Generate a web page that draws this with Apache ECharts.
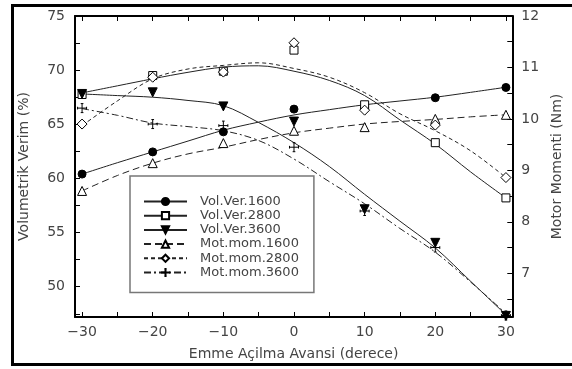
<!DOCTYPE html>
<html><head><meta charset="utf-8">
<script src="https://cdn.jsdelivr.net/npm/echarts@6/dist/echarts.min.js"></script>
<style>html,body{margin:0;padding:0;background:#fff}#c{width:572px;height:369px}</style>
</head><body><div id="c"></div>
<script>
// ---- data ----
const advance = [-30, -20, -10, 0, 10, 20, 30];
const volVer1600 = [60.4, 62.45, 64.3, 66.4, 66.5, 67.45, 68.4];
const volVer2800 = [67.75, 69.5, 69.9, 71.85, 66.8, 63.3, 58.2];
const volVer3600 = [67.8, 67.95, 66.65, 65.25, 57.15, 54.05, 47.3];
const motMom1600 = [8.6, 9.14, 9.53, 9.77, 9.84, 10.0, 10.08];
const motMom2800 = [9.9, 10.81, 10.91, 11.48, 10.17, 9.88, 8.86];
const motMom3600 = [10.21, 9.9, 9.87, 9.45, 8.21, 7.5, 6.18];

// fitted curves
const curveX = [-30, -25, -20, -15, -10, -5, 0, 5, 10, 15, 20, 25, 30];
const fitVol1600 = [60.4, 61.45, 62.45, 63.45, 64.45, 65.2, 65.86, 66.35, 66.8, 67.15, 67.5, 67.95, 68.42];
const fitVol2800 = [67.9, 68.55, 69.2, 69.8, 70.28, 70.4, 69.9, 69.05, 67.65, 65.4, 63.17, 60.6, 58.2];
const fitVol3600 = [67.8, 67.65, 67.5, 67.2, 66.72, 65.16, 63.3, 61.1, 58.53, 56.05, 53.58, 50.5, 47.4];
const fitMot1600 = [8.6, 8.9, 9.14, 9.32, 9.45, 9.6, 9.73, 9.82, 9.9, 9.95, 9.99, 10.04, 10.08];
const fitMot2800 = [9.87, 10.35, 10.78, 10.97, 11.04, 11.09, 10.98, 10.81, 10.51, 10.1, 9.77, 9.38, 8.86];
const fitMot3600 = [10.2, 10.07, 9.92, 9.85, 9.77, 9.58, 9.22, 8.78, 8.35, 7.87, 7.41, 6.83, 6.22];

const seriesNames = ['Vol.Ver.1600', 'Vol.Ver.2800', 'Vol.Ver.3600', 'Mot.mom.1600', 'Mot.mom.2800', 'Mot.mom.3600'];

const xLabelTicks = [-30, -20, -10, 0, 10, 20, 30];
const xMinorTicks = [-30, -25, -20, -15, -10, -5, 0, 5, 10, 15, 20, 25, 30];
const volLabelTicks = [50, 55, 60, 65, 70, 75];
const volMinorTicks = [47.5, 50, 52.5, 55, 57.5, 60, 62.5, 65, 67.5, 70, 72.5, 75];
const momLabelTicks = [7, 8, 9, 10, 11, 12];
const momMinorTicks = [6.5, 7, 7.5, 8, 8.5, 9, 9.5, 10, 10.5, 11, 11.5, 12];

// ---- chart ----
const FONT = 'DejaVu Sans';
const TXT = '#444';
const LINE = '#222';
const pairs = (xs, ys) => xs.map((x, i) => [x, ys[i]]);
const minus = v => String(v).replace('-', '\u2212');

const crossPath = 'path://M0,5L10,5M5,0L5,10M0,3.5L0,6.5M10,3.5L10,6.5M3.5,0L6.5,0M3.5,10L6.5,10';

const styles = [
  { sym: 'circle', size: 8, fill: '#000', type: 'solid', axis: 0, rot: 0 },
  { sym: 'rect', size: 8, fill: '#fff', type: 'solid', axis: 0, rot: 0 },
  { sym: 'triangle', size: 9, fill: '#000', type: 'solid', axis: 0, rot: 180 },
  { sym: 'triangle', size: 9, fill: '#fff', type: [7, 4], axis: 1, rot: 0 },
  { sym: 'diamond', size: 10, fill: '#fff', type: [4, 3], axis: 1, rot: 0 },
  { sym: crossPath, size: 9, fill: 'none', type: [7, 3, 2, 3], axis: 1, rot: 0 }
];
const fits = [fitVol1600, fitVol2800, fitVol3600, fitMot1600, fitMot2800, fitMot3600];
const pts = [volVer1600, volVer2800, volVer3600, motMom1600, motMom2800, motMom3600];

const series = [];
seriesNames.forEach((n, i) => {
  const s = styles[i];
  series.push({
    name: n, type: 'line', yAxisIndex: s.axis, smooth: 0.35,
    data: pairs(curveX, fits[i]),
    symbol: s.sym, symbolSize: s.size, symbolRotate: s.rot, showSymbol: false,
    lineStyle: { color: LINE, width: 1, type: s.type },
    itemStyle: { color: s.fill, borderColor: '#000', borderWidth: 1 },
    silent: true, z: 2
  });
});
seriesNames.forEach((n, i) => {
  const s = styles[i];
  series.push({
    name: n + ' data', type: 'scatter', yAxisIndex: s.axis,
    data: pairs(advance, pts[i]),
    symbol: s.sym, symbolSize: s.size, symbolRotate: s.rot,
    itemStyle: { color: s.fill, borderColor: '#000', borderWidth: 1, opacity: 1 },
    silent: true, z: 3
  });
});

const axisLine = { show: true, onZero: false, lineStyle: { color: '#000', width: 2 } };
const tick = vals => ({ show: true, inside: true, length: 5, customValues: vals, lineStyle: { color: '#000', width: 1 } });

const option = {
  animation: false,
  grid: { left: 75, right: 54, top: 16, bottom: 52, containLabel: false },
  graphic: [{
    type: 'rect', shape: { x: 12.5, y: 5.5, width: 565, height: 359 },
    style: { fill: 'none', stroke: '#000', lineWidth: 3 }, z: 100
  }],
  legend: {
    data: seriesNames, orient: 'vertical', left: 130, top: 176,
    itemWidth: 43, itemHeight: 9, itemGap: 1.2,
    padding: [19, 15, 13.5, 13],
    backgroundColor: '#fff', borderColor: '#777', borderWidth: 1.5,
    textStyle: { fontFamily: FONT, fontSize: 13, lineHeight: 10, color: TXT, padding: [0, 0, 0, 8] },
    selectedMode: false
  },
  xAxis: [{
    type: 'value', min: -31, max: 30.9, position: 'bottom',
    name: 'Emme Açilma Avansi (derece)', nameLocation: 'middle', nameGap: 30,
    nameTextStyle: { fontFamily: FONT, fontSize: 14, color: TXT },
    axisLine, axisTick: tick(xMinorTicks),
    axisLabel: { customValues: xLabelTicks, formatter: minus, margin: 8, fontFamily: FONT, fontSize: 14, color: TXT },
    splitLine: { show: false }
  }, {
    type: 'value', min: -31, max: 30.9, position: 'top',
    axisLine, axisTick: tick(xMinorTicks), axisLabel: { show: false }, splitLine: { show: false }
  }],
  yAxis: [{
    type: 'value', min: 47.2, max: 75, position: 'left',
    name: 'Volumetrik Verim (%)', nameLocation: 'middle', nameRotate: 90, nameGap: 44,
    nameTextStyle: { fontFamily: FONT, fontSize: 14, color: TXT },
    axisLine, axisTick: tick(volMinorTicks),
    axisLabel: { customValues: volLabelTicks, margin: 10, fontFamily: FONT, fontSize: 14, color: TXT },
    splitLine: { show: false }
  }, {
    type: 'value', min: 6.15, max: 12, position: 'right',
    name: 'Motor Momenti (Nm)', nameLocation: 'middle', nameRotate: 90, nameGap: 36,
    nameTextStyle: { fontFamily: FONT, fontSize: 14, color: TXT },
    axisLine, axisTick: tick(momMinorTicks),
    axisLabel: { customValues: momLabelTicks, margin: 9, fontFamily: FONT, fontSize: 14, color: TXT },
    splitLine: { show: false }
  }],
  series
};
const chart = echarts.init(document.getElementById('c'), null, { renderer: 'canvas' });
chart.setOption(option);
</script></body></html>
